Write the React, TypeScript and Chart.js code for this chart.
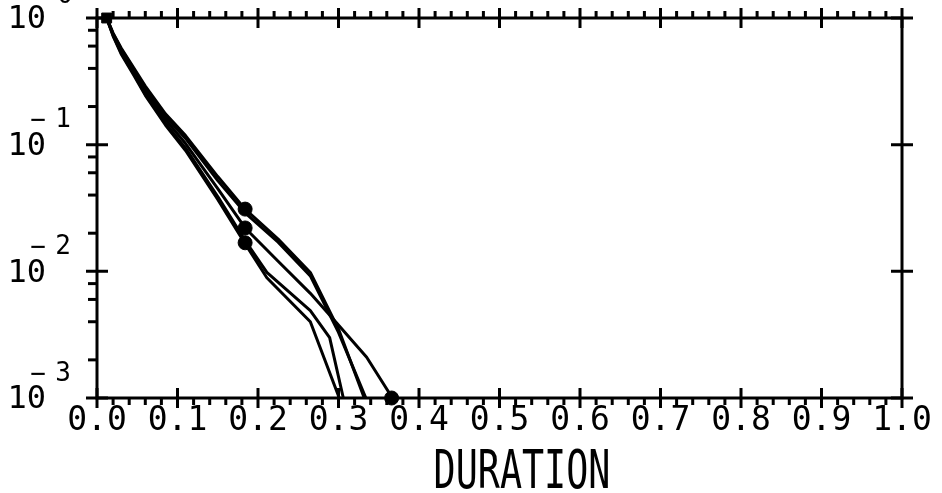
import React, { useEffect, useRef } from "react";
import { Chart, registerables } from "chart.js";

Chart.register(...registerables);

// ---- data ----
const durA = [0.012, 0.02, 0.03, 0.045, 0.06, 0.085, 0.11, 0.15, 0.184, 0.225, 0.265, 0.30, 0.332];
const probA = [1, 0.76, 0.58, 0.41, 0.29, 0.175, 0.118, 0.056, 0.031, 0.018, 0.0098, 0.0035, 0.001];

const durB = [0.012, 0.02, 0.03, 0.045, 0.06, 0.085, 0.11, 0.15, 0.184, 0.225, 0.265, 0.30, 0.334];
const probB = [1, 0.75, 0.57, 0.4, 0.28, 0.168, 0.112, 0.052, 0.029, 0.017, 0.0092, 0.0033, 0.001];

const durC = [0.012, 0.02, 0.03, 0.045, 0.06, 0.085, 0.11, 0.15, 0.184, 0.225, 0.265, 0.298, 0.335, 0.367];
const probC = [1, 0.74, 0.55, 0.385, 0.265, 0.158, 0.102, 0.045, 0.022, 0.012, 0.0067, 0.0039, 0.0021, 0.001];

const durD = [0.012, 0.02, 0.03, 0.045, 0.06, 0.085, 0.11, 0.15, 0.184, 0.211, 0.265, 0.289, 0.306];
const probD = [1, 0.73, 0.53, 0.37, 0.25, 0.148, 0.094, 0.039, 0.0175, 0.0098, 0.0049, 0.003, 0.001];

const durE = [0.012, 0.02, 0.03, 0.045, 0.06, 0.085, 0.11, 0.15, 0.184, 0.211, 0.265, 0.301];
const probE = [1, 0.72, 0.52, 0.36, 0.245, 0.143, 0.09, 0.037, 0.0165, 0.0089, 0.004, 0.001];

const markerDur = [0.184, 0.184, 0.184, 0.366];
const markerProb = [0.031, 0.022, 0.0168, 0.001];

const startDur = [0.012];
const startProb = [1];

const xTickLabels = ["0.0", "0.1", "0.2", "0.3", "0.4", "0.5", "0.6", "0.7", "0.8", "0.9", "1.0"];
const yDecades = [1, 0.1, 0.01, 0.001];
const yExponents = ["0", "−1", "−2", "−3"];
const xTitle = "DURATION";

const MONO = '"DejaVu Sans Mono", "Liberation Mono", monospace';

const pts = (xs: number[], ys: number[]) => xs.map((x, i) => ({ x, y: ys[i] }));

const framePlugin = {
  id: "plotterFrame",
  afterDatasetsDraw(chart: any) {
    const { ctx, chartArea: a, scales } = chart;
    const xs = scales.x;
    const ys = scales.y;
    ctx.save();
    ctx.strokeStyle = "#000";
    ctx.fillStyle = "#000";
    ctx.lineWidth = 3;
    ctx.lineCap = "butt";
    ctx.strokeRect(a.left, a.top, a.right - a.left, a.bottom - a.top);

    // x ticks (top and bottom)
    for (let i = 0; i <= 50; i++) {
      const v = i / 50;
      const px = xs.getPixelForValue(v);
      const major = i % 5 === 0;
      ctx.beginPath();
      if (major) {
        ctx.moveTo(px, a.bottom - 10);
        ctx.lineTo(px, a.bottom + 10);
        ctx.moveTo(px, a.top - 10);
        ctx.lineTo(px, a.top + 10);
      } else {
        ctx.moveTo(px, a.bottom);
        ctx.lineTo(px, a.bottom + 7);
        ctx.moveTo(px, a.top);
        ctx.lineTo(px, a.top - 7);
      }
      ctx.stroke();
    }

    // y ticks
    yDecades.forEach((d) => {
      const py = ys.getPixelForValue(d);
      ctx.beginPath();
      ctx.moveTo(a.left - 11, py);
      ctx.lineTo(a.left + 11, py);
      ctx.moveTo(a.right - 11, py);
      ctx.lineTo(a.right + 11, py);
      ctx.stroke();
      if (d > 0.001) {
        [2, 4, 6, 8].forEach((m) => {
          const pm = ys.getPixelForValue((d * m) / 10);
          ctx.beginPath();
          ctx.moveTo(a.left, pm);
          ctx.lineTo(a.left - 9, pm);
          ctx.stroke();
        });
      }
    });

    // y labels: 10 with raised exponent
    yDecades.forEach((d, i) => {
      const py = ys.getPixelForValue(d);
      ctx.font = `32px ${MONO}`;
      ctx.textAlign = "right";
      ctx.textBaseline = "middle";
      ctx.fillText("10", 46, py + 2);
      const e = yExponents[i];
      ctx.textAlign = "center";
      if (e.length > 1) {
        ctx.font = `26px ${MONO}`;
        ctx.fillText(e.charAt(0), 38, py - 23);
        ctx.fillText(e.slice(1), 63, py - 24);
      } else {
        ctx.font = `26px ${MONO}`;
        ctx.fillText(e, 65, py - 22);
      }
    });

    // axis title, narrow plotter style
    ctx.save();
    ctx.translate(522, 488);
    ctx.scale(0.68, 1);
    ctx.font = `54px ${MONO}`;
    ctx.textAlign = "center";
    ctx.textBaseline = "alphabetic";
    ctx.fillText(xTitle, 0, 0);
    ctx.restore();

    ctx.restore();
  },
};

export default function App() {
  const ref = useRef<HTMLCanvasElement | null>(null);

  useEffect(() => {
    if (!ref.current) return;
    const lineDs = (data: { x: number; y: number }[]) => ({
      data,
      borderColor: "#000",
      borderWidth: 3,
      pointRadius: 0,
      showLine: true,
      tension: 0,
      borderJoinStyle: "round",
      fill: false,
    });
    const chart = new Chart(ref.current, {
      type: "scatter",
      data: {
        datasets: [
          lineDs(pts(durA, probA)),
          lineDs(pts(durB, probB)),
          lineDs(pts(durC, probC)),
          lineDs(pts(durD, probD)),
          lineDs(pts(durE, probE)),
          {
            data: pts(markerDur, markerProb),
            showLine: false,
            pointRadius: 7,
            pointStyle: "circle",
            backgroundColor: "#000",
            borderColor: "#000",
            clip: false,
          } as any,
          {
            data: pts(startDur, startProb),
            showLine: false,
            pointRadius: 7,
            pointStyle: "rect",
            backgroundColor: "#000",
            borderColor: "#000",
            clip: false,
          } as any,
        ] as any,
      },
      options: {
        animation: false,
        responsive: false,
        devicePixelRatio: 1,
        layout: { padding: { top: 18, right: 40, left: 0, bottom: 0 } },
        plugins: { legend: { display: false }, tooltip: { enabled: false } },
        scales: {
          x: {
            type: "linear",
            min: 0,
            max: 1,
            grid: { display: false, drawTicks: false },
            border: { display: false },
            ticks: {
              stepSize: 0.1,
              autoSkip: false,
              maxRotation: 0,
              padding: 4,
              color: "#000",
              font: { family: MONO, size: 33 },
              callback: (v: any) => xTickLabels[Math.round(Number(v) * 10)] ?? "",
            },
            afterFit: (s: any) => {
              s.height = 95;
            },
          },
          y: {
            type: "logarithmic",
            min: 0.001,
            max: 1,
            grid: { display: false, drawTicks: false },
            border: { display: false },
            ticks: { display: false },
            afterFit: (s: any) => {
              s.width = 97;
            },
          },
        },
      },
      plugins: [framePlugin],
    });
    return () => chart.destroy();
  }, []);

  return (
    <div style={{ position: "fixed", left: 0, top: 0, width: 942, height: 493, background: "#fff" }}>
      <canvas ref={ref} width={942} height={493} />
    </div>
  );
}
